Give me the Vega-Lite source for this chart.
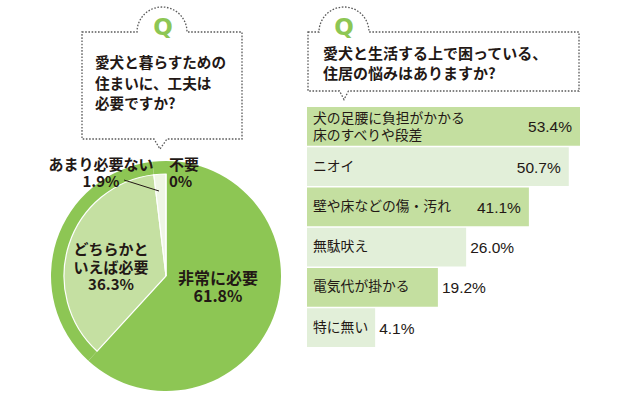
{
  "$schema": "https://vega.github.io/schema/vega-lite/v6.json",
  "padding": {"left": 48, "top": 4, "right": 0, "bottom": 0},
  "config": {"view": {"stroke": null}, "font": "Noto Sans CJK JP"},
  "spacing": 24,
  "resolve": {"scale": {"color": "independent"}},
  "hconcat": [
    {
      "vconcat": [
        {
          "width": 160,
          "height": 107,
          "data": {"values": [{}]},
          "layer": [
            {"mark": {"type": "point", "shape": "M-84,-53.5L-29,-53.5A25,25 0 0 1 21,-53.5L76,-53.5L76,53.5L1,53.5L-6,63.5L-12,53.5L-84,53.5Z", "size": 4, "filled": false, "stroke": "#5a5a5a", "strokeWidth": 1.3, "strokeDash": [1.6, 1.6], "opacity": 1}},
            {"mark": {"type": "text", "text": "Q", "font": "DejaVu Sans", "fontWeight": "bold", "fontSize": 23, "color": "#8DC654", "dx": -3, "dy": -57.5, "align": "center", "baseline": "middle"}},
            {"mark": {"type": "text", "text": ["愛犬と暮らすための", "住まいに、工夫は", "必要ですか?"], "font": "Noto Sans CJK JP", "fontSize": 14.6, "fontWeight": "bold", "lineHeight": 20.5, "align": "left", "baseline": "middle", "dx": -71, "dy": -21.5, "color": "#231815"}}
          ]
        },
        {
          "width": 230,
          "height": 230,
          "data": {"values": [
            {"no": 1, "cat": "非常に必要", "value": 61.8, "label": "非常に必要\n61.8%"},
            {"no": 2, "cat": "どちらかといえば必要", "value": 36.3, "label": "どちらかと\nいえば必要\n36.3%"},
            {"no": 3, "cat": "あまり必要ない", "value": 1.9, "label": "あまり必要ない\n1.9%"},
            {"no": 4, "cat": "不要", "value": 0, "label": "不要\n0%"}
          ]},
          "transform": [
            {"stack": "value", "groupby": [], "sort": [{"field": "no", "order": "ascending"}], "as": ["s0", "s1"]}
          ],
          "layer": [
            {
              "mark": {"type": "arc", "outerRadius": 115, "fill": "#8DC654"},
              "encoding": {
                "theta": {"field": "s0", "type": "quantitative", "scale": {"domain": [0, 100]}},
                "theta2": {"field": "s1"}
              }
            },
            {
              "mark": {"type": "arc", "outerRadius": 102, "stroke": "#ffffff"},
              "encoding": {
                "theta": {"field": "s0", "type": "quantitative"},
                "theta2": {"field": "s1"},
                "color": {"field": "cat", "type": "nominal", "legend": null, "scale": {"domain": ["非常に必要", "どちらかといえば必要", "あまり必要ない", "不要"], "range": ["rgba(0,0,0,0)", "#C5E0A2", "#EFF6E5", "#ffffff"]}},
                "strokeWidth": {"condition": {"test": "datum.no === 1", "value": 0}, "value": 1.2}
              }
            },
            {
              "transform": [{"filter": "datum.no === 1"}],
              "mark": {"type": "text", "radius": 0, "dx": 52, "dy": 2.5, "fontSize": 16, "fontWeight": "bold", "lineHeight": 18.5, "align": "center", "baseline": "middle", "lineBreak": "\n", "color": "#231815"},
              "encoding": {
                "theta": {"field": "s0", "type": "quantitative"},
                "text": {"field": "label", "type": "nominal"}
              }
            },
            {
              "transform": [{"filter": "datum.no === 2"}],
              "mark": {"type": "text", "radius": 0, "dx": -55, "dy": -26, "fontSize": 15, "fontWeight": "bold", "lineHeight": 17.5, "align": "center", "baseline": "middle", "lineBreak": "\n", "color": "#231815"},
              "encoding": {
                "theta": {"field": "s0", "type": "quantitative"},
                "text": {"field": "label", "type": "nominal"}
              }
            },
            {
              "transform": [{"filter": "datum.no === 3"}],
              "mark": {"type": "text", "radius": 103, "dx": -52.7, "dy": -8.7, "fontSize": 15, "fontWeight": "bold", "lineHeight": 17, "align": "center", "baseline": "middle", "lineBreak": "\n", "color": "#231815"},
              "encoding": {
                "theta": {"field": "s0", "type": "quantitative"},
                "text": {"field": "label", "type": "nominal"}
              }
            },
            {
              "transform": [{"filter": "datum.no === 4"}],
              "mark": {"type": "text", "radius": 103, "dx": 3, "dy": -8.5, "fontSize": 15, "fontWeight": "bold", "lineHeight": 17.5, "align": "left", "baseline": "middle", "lineBreak": "\n", "color": "#231815"},
              "encoding": {
                "theta": {"field": "s0", "type": "quantitative"},
                "text": {"field": "label", "type": "nominal"}
              }
            },
            {
              "data": {"values": [{}]},
              "mark": {"type": "point", "shape": "M-42,-96L-7,-85", "size": 4, "filled": false, "stroke": "#231815", "strokeWidth": 1, "opacity": 1}
            }
          ]
        }
      ],
      "spacing": 22,
      "center": true,
      "bounds": "flush"
    },
    {
      "vconcat": [
        {
          "width": 271,
          "height": 59,
          "data": {"values": [{}]},
          "layer": [
            {"mark": {"type": "point", "shape": "M-135.5,-29.5L-124.5,-29.5A25,25 0 0 1 -74.5,-29.5L135.5,-29.5L135.5,29.5L-95,29.5L-99.5,38L-104,29.5L-135.5,29.5Z", "size": 4, "filled": false, "stroke": "#5a5a5a", "strokeWidth": 1.3, "strokeDash": [1.6, 1.6], "opacity": 1}},
            {"mark": {"type": "text", "text": "Q", "font": "DejaVu Sans", "fontWeight": "bold", "fontSize": 23, "color": "#8DC654", "dx": -99.5, "dy": -33.5, "align": "center", "baseline": "middle"}},
            {"mark": {"type": "text", "text": ["愛犬と生活する上で困っている、", "住居の悩みはありますか?"], "font": "Noto Sans CJK JP", "fontSize": 15, "fontWeight": "bold", "lineHeight": 20, "align": "left", "baseline": "middle", "dx": -120.5, "dy": -7.5, "color": "#231815"}}
          ]
        },
        {
          "width": 273,
          "height": 240,
          "data": {"values": [
            {"item": "犬の足腰に負担がかかる\n床のすべりや段差", "pct": 0.534},
            {"item": "ニオイ", "pct": 0.507},
            {"item": "壁や床などの傷・汚れ", "pct": 0.411},
            {"item": "無駄吠え", "pct": 0.26},
            {"item": "電気代が掛かる", "pct": 0.192},
            {"item": "特に無い", "pct": 0.041}
          ]},
          "encoding": {
            "y": {"field": "item", "type": "nominal", "sort": null, "axis": null, "scale": {"paddingInner": 0.04, "paddingOuter": 0}}
          },
          "layer": [
            {
              "mark": {"type": "bar"},
              "encoding": {
                "x": {"field": "pct", "type": "quantitative", "axis": null, "scale": {"domain": [-0.123, 0.534], "nice": false, "zero": false}},
                "x2": {"datum": -0.123},
                "color": {"field": "item", "type": "nominal", "sort": null, "legend": null, "scale": {"range": ["#C4DFA0", "#E2EFD9", "#C4DFA0", "#E2EFD9", "#C4DFA0", "#E2EFD9"]}}
              }
            },
            {
              "mark": {"type": "text", "align": "left", "baseline": "middle", "dx": 6, "fontSize": 13.8, "lineHeight": 17, "lineBreak": "\n", "color": "#231815", "font": "Noto Sans CJK JP"},
              "encoding": {
                "x": {"datum": -0.123, "type": "quantitative"},
                "text": {"condition": {"test": "indexof(datum.item, '\\n') < 0", "field": "item", "type": "nominal"}, "value": ""}
              }
            },
            {
              "mark": {"type": "text", "align": "left", "baseline": "middle", "dx": 6, "dy": -7.5, "fontSize": 13.8, "lineHeight": 17, "lineBreak": "\n", "color": "#231815", "font": "Noto Sans CJK JP"},
              "encoding": {
                "x": {"datum": -0.123, "type": "quantitative"},
                "text": {"condition": {"test": "indexof(datum.item, '\\n') >= 0", "field": "item", "type": "nominal"}, "value": ""}
              }
            },
            {
              "mark": {"type": "text", "align": "right", "baseline": "middle", "dx": -8, "dy": 1, "fontSize": 15.5, "font": "Liberation Sans", "color": "#231815"},
              "encoding": {
                "x": {"field": "pct", "type": "quantitative"},
                "text": {"condition": {"test": "datum.pct >= 0.4", "field": "pct", "type": "quantitative", "format": ".1%"}, "value": ""}
              }
            },
            {
              "mark": {"type": "text", "align": "left", "baseline": "middle", "dx": 4, "dy": 1, "fontSize": 15.5, "font": "Liberation Sans", "color": "#231815"},
              "encoding": {
                "x": {"field": "pct", "type": "quantitative"},
                "text": {"condition": {"test": "datum.pct < 0.4", "field": "pct", "type": "quantitative", "format": ".1%"}, "value": ""}
              }
            }
          ]
        }
      ],
      "spacing": 16,
      "center": true,
      "bounds": "flush"
    }
  ]
}
